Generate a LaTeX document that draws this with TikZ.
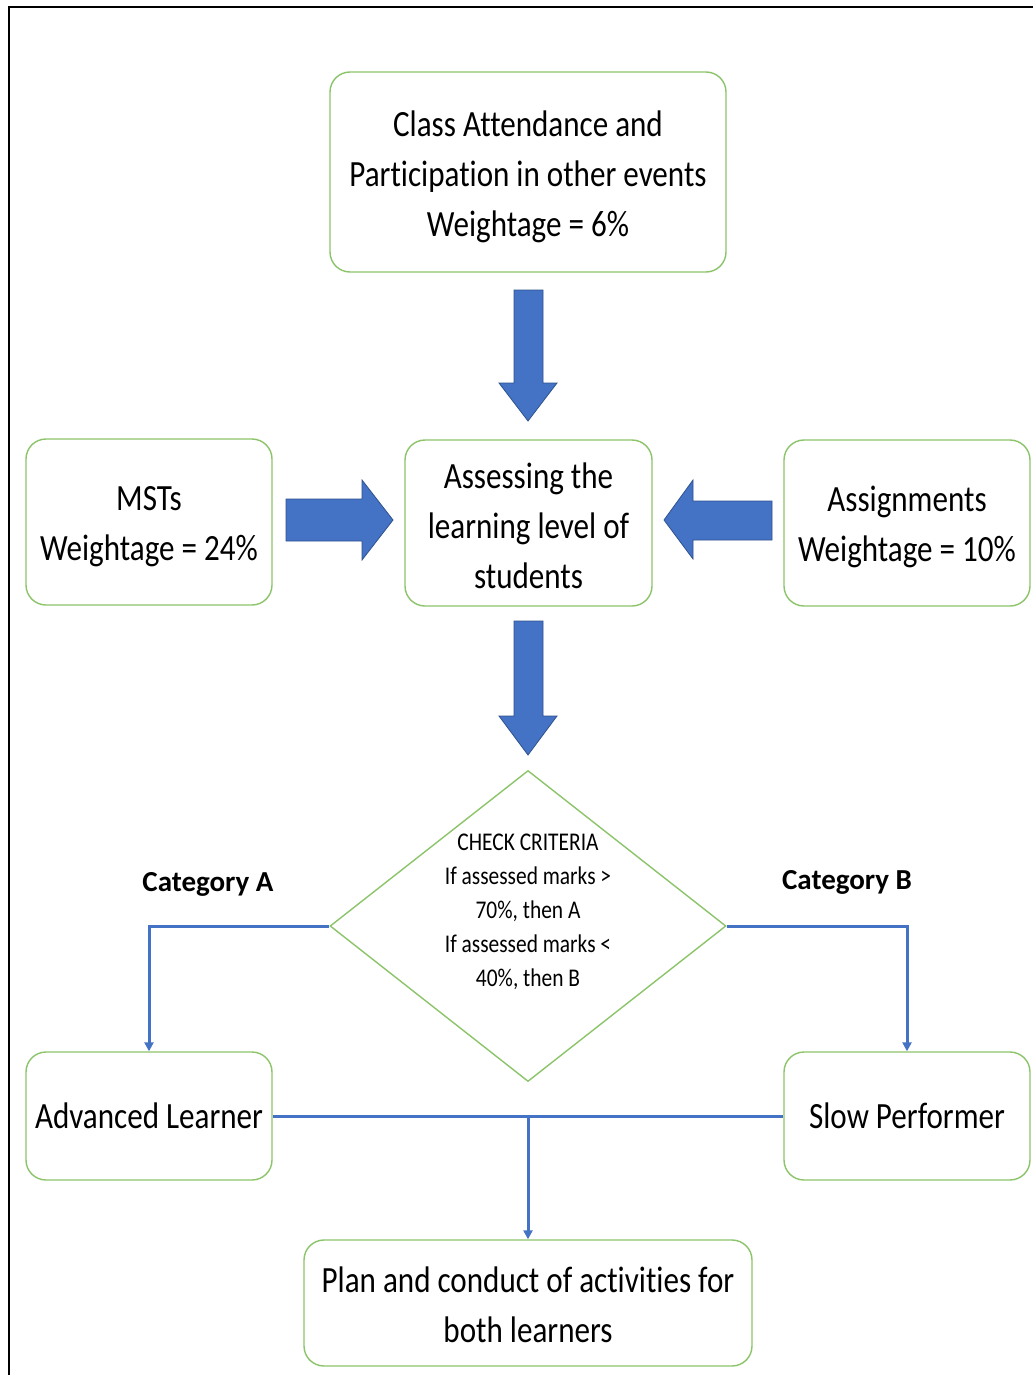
\documentclass[tikz,border=0pt]{standalone}
\usepackage{fontspec}
\setmainfont[FakeStretch=0.84,Ligatures=NoCommon]{Carlito}
\newfontfamily\catfont[Ligatures=NoCommon]{Carlito}
\usetikzlibrary{shapes.geometric,arrows.meta}
\definecolor{boxgreen}{HTML}{8CC46A}
\definecolor{arrowblue}{HTML}{4472C4}
\definecolor{arrowedge}{HTML}{2F528F}
\tikzset{
  rbox/.style={draw=boxgreen, line width=1.4pt, rounded corners=20pt, inner sep=0pt},
  boxtext/.style={align=center, inner sep=0pt, font=\fontsize{37}{50}\selectfont},
  blockarrow/.style={fill=arrowblue, draw=arrowedge, line width=0.8pt},
  conn/.style={draw=arrowblue, line width=3pt, -{Triangle[length=9pt,width=9pt]}},
  plainline/.style={draw=arrowblue, line width=3pt},
  catlabel/.style={font=\catfont\bfseries\fontsize{29}{34}\selectfont},
  frameline/.style={draw=black, line width=2pt}
}
\begin{document}
\begin{tikzpicture}[x=1pt,y=-1pt]
\useasboundingbox (0,0) rectangle (1033,1375);
\fill[white] (0,0) rectangle (1033,1375);
\draw[frameline] (9,1375) -- (9,7) -- (1033,7);

% boxes
\node[rbox, minimum width=396pt, minimum height=200pt] (top) at (528,172) {};
\node[boxtext] (toptext) at ([yshift=-5pt]top.center)
  {Class Attendance and\\Participation in other events\\Weightage = 6\%};
\node[rbox, minimum width=246pt, minimum height=166pt] (mst) at (149,522) {};
\node[boxtext] (msttext) at ([yshift=-5pt]mst.center) {MSTs\\Weightage = 24\%};
\node[rbox, minimum width=247pt, minimum height=166pt] (assess) at (528.5,523) {};
\node[boxtext] (assesstext) at ([yshift=-3pt]assess.center)
  {Assessing the\\learning level of\\students};
\node[rbox, minimum width=246pt, minimum height=166pt] (asg) at (907,523) {};
\node[boxtext] (asgtext) at ([yshift=-4pt]asg.center) {Assignments\\Weightage = 10\%};
\node[rbox, minimum width=246pt, minimum height=128pt] (adv) at (149,1116) {};
\node[boxtext] (advtext) at (adv.center) {Advanced Learner};
\node[rbox, minimum width=246pt, minimum height=128pt] (slow) at (907,1116) {};
\node[boxtext] (slowtext) at (slow.center) {Slow Performer};
\node[rbox, minimum width=448pt, minimum height=126pt] (plan) at (528,1303) {};
\node[boxtext] (plantext) at ([yshift=-2pt]plan.center)
  {Plan and conduct of activities for\\both learners};

% diamond
\node[diamond, draw=boxgreen, line width=1.4pt, inner sep=0pt, aspect=1.27,
  minimum width=396pt, minimum height=311pt] (chk) at (528,926) {};
\node[align=center, font=\fontsize{25.5}{34}\selectfont] (chktext) at (528,912)
  {CHECK CRITERIA\\If assessed marks >\\70\%, then A\\If assessed marks <\\40\%, then B};

% block arrows
\draw[blockarrow] (514,290) -- (543,290) -- (543,383) -- (557,383) -- (528,421)
  -- (499,383) -- (514,383) -- cycle;
\draw[blockarrow] (286,499) -- (362,499) -- (362,480) -- (393,520) -- (362,560)
  -- (362,541) -- (286,541) -- cycle;
\draw[blockarrow] (772,501) -- (693,501) -- (693,480) -- (664,520) -- (693,559)
  -- (693,540) -- (772,540) -- cycle;
\draw[blockarrow] (514,621) -- (543,621) -- (543,716) -- (557,716) -- (528,755)
  -- (499,716) -- (514,716) -- cycle;

% connectors
\draw[conn] (chk.west) -| (adv.north);
\draw[conn] (chk.east) -| (slow.north);
\draw[plainline] (adv.east) -- (slow.west);
\draw[conn] (adv.east -| plan.north) -- (plan.north);

% labels
\node[catlabel] (catA) at (208,884) {Category A};
\node[catlabel] (catB) at (847,882) {Category B};
\end{tikzpicture}
\end{document}
